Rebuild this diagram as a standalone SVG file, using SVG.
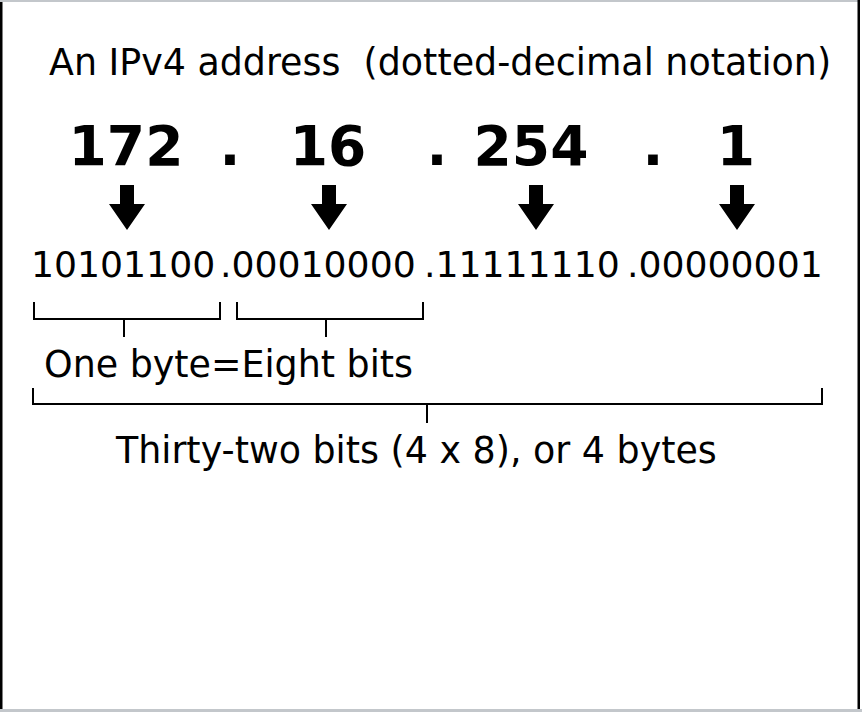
<svg xmlns="http://www.w3.org/2000/svg" width="862" height="712" viewBox="0 0 862 712">
<style>
  text { font-family: "DejaVu Sans", "Liberation Sans", sans-serif; fill: #000; }
  .title { font-size: 36.4px; }
  .big { font-size: 55px; font-weight: bold; text-anchor: middle; }
  .bin { font-size: 36.2px; }
  .lbl { font-size: 36.4px; }
  .br { fill: none; stroke: #000; stroke-width: 2; }
  .arrow { fill: #000; }
</style>
<defs>
  <path id="arr" d="M -7 0 L 7 0 L 7 19 L 18 19 L 0 45 L -18 19 L -7 19 Z"/>
</defs>
<rect x="0" y="0" width="862" height="712" fill="#ffffff"/>
<rect x="0" y="0" width="858" height="2" fill="#c3c7cb"/>
<rect x="0" y="709" width="862" height="3" fill="#c3c7cb"/>
<rect x="0" y="2" width="2.5" height="707" fill="#000"/>
<rect x="857.5" y="0" width="2.5" height="709" fill="#000"/>

<g id="title">
  <text class="title" x="49" y="75" xml:space="preserve">An IPv4 address  (dotted-decimal notation)</text>
</g>

<g id="decimal">
  <text class="big" x="126" y="165">172</text>
  <text class="big" x="230" y="165">.</text>
  <text class="big" x="328" y="165">16</text>
  <text class="big" x="437" y="165">.</text>
  <text class="big" x="531" y="165">254</text>
  <text class="big" x="653" y="165">.</text>
  <text class="big" x="736" y="165">1</text>
</g>

<g id="connectors">
  <use href="#arr" class="arrow" x="127" y="185"/>
  <use href="#arr" class="arrow" x="329" y="185"/>
  <use href="#arr" class="arrow" x="536" y="185"/>
  <use href="#arr" class="arrow" x="737" y="185"/>
</g>

<g id="binary">
  <text class="bin" x="31" y="277">10101100</text>
  <text class="bin" x="220" y="277">.00010000</text>
  <text class="bin" x="424" y="277">.11111110</text>
  <text class="bin" x="627" y="277">.00000001</text>
</g>

<g id="byte-brackets">
  <path class="br" d="M 34 302 L 34 319 L 220 319 L 220 302 M 124 319 L 124 337"/>
  <path class="br" d="M 237 302 L 237 319 L 423 319 L 423 302 M 326 319 L 326 337"/>
</g>

<g id="byte-label">
  <text class="lbl" x="44" y="377">One byte=Eight bits</text>
</g>

<g id="total-bracket">
  <path class="br" d="M 33 388 L 33 404 L 822 404 L 822 388 M 427 404 L 427 423"/>
</g>

<g id="total-label">
  <text class="lbl" x="116" y="463">Thirty-two bits (4 x 8), or 4 bytes</text>
</g>
</svg>
